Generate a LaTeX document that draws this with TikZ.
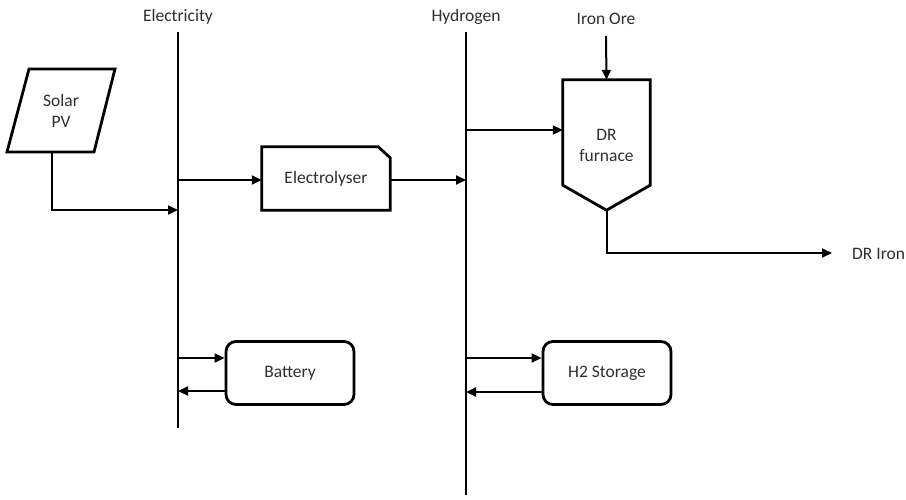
\documentclass[tikz,border=0pt]{standalone}
\usepackage{fontspec}
\setmainfont{Carlito}
\usetikzlibrary{arrows.meta}

\begin{document}
\begin{tikzpicture}[
    x=1pt, y=-1pt,
    font=\fontsize{17.5}{21}\selectfont,
    every node/.style={text=black!82},
    bus/.style={line width=2pt},
    flow/.style={line width=2pt,-{Triangle[length=10pt,width=9pt]}},
    unit/.style={draw,line width=2.8pt,rounded corners=10pt,minimum width=128,minimum height=63,inner sep=0pt},
    shell/.style={line width=2.8pt,line join=miter},
    tag/.style={inner sep=0pt}
]
    \useasboundingbox (0,0) rectangle (906,499);

    % carriers
    \coordinate (etop) at (178,32);
    \coordinate (ebot) at (178,428);
    \coordinate (htop) at (466,32);
    \coordinate (hbot) at (466,495);
    \draw[bus] (etop) -- (ebot);
    \draw[bus] (htop) -- (hbot);
    \node[tag] (elabel) at (178,17) {Electricity};
    \node[tag] (hlabel) at (466,17) {Hydrogen};

    % units
    \coordinate (pvA) at (29,69);
    \coordinate (pvB) at (115,69);
    \coordinate (pvC) at (94,152);
    \coordinate (pvD) at (7,152);
    \draw[shell] (pvA) -- (pvB) -- (pvC) -- (pvD) -- cycle;
    \node[tag,align=center] (pv) at (61,111) {Solar\\PV};
    \coordinate (pvout) at (52,152);

    \node[inner sep=0pt,minimum width=128,minimum height=63] (elz) at (326,178.5) {Electrolyser};
    \draw[shell] (elz.south west) -- (elz.north west) -- ([xshift=-12pt]elz.north east)
        -- ([yshift=-11pt]elz.north east) -- (elz.south east) -- cycle;

    \node[inner sep=0pt,minimum width=87,minimum height=130,align=center] (dr) at (606.5,145) {DR\\furnace};
    \draw[shell] (dr.north west) -- (dr.north east) -- ([yshift=25pt]dr.south east)
        -- (dr.south) -- ([yshift=25pt]dr.south west) -- cycle;

    \node[unit] (bat) at (290,373) {Battery};
    \node[unit] (h2s) at (607,373) {H2 Storage};

    \node[tag] (ore) at (606,19) {Iron Ore};
    \node[tag,anchor=west] (iron) at (852,254) {DR Iron};
    \coordinate (ironin) at (832,253);

    % flows
    \draw[flow] (pvout) |- (178,210);
    \draw[flow] (178,180) -- (elz.west |- 0,180);
    \draw[flow] (elz.east |- 0,180) -- (466,180);
    \draw[flow] (466,130) -- (dr.west |- 0,130);
    \draw[flow] (ore.south) ++(0,-11pt) -- (dr.north);
    \draw[flow] (dr.south) |- (ironin);
    \draw[flow] (178,358) -- (bat.west |- 0,358);
    \draw[flow] (bat.west |- 0,391) -- (178,391);
    \draw[flow] (466,358) -- (h2s.west |- 0,358);
    \draw[flow] (h2s.west |- 0,392) -- (466,392);
\end{tikzpicture}
\end{document}
